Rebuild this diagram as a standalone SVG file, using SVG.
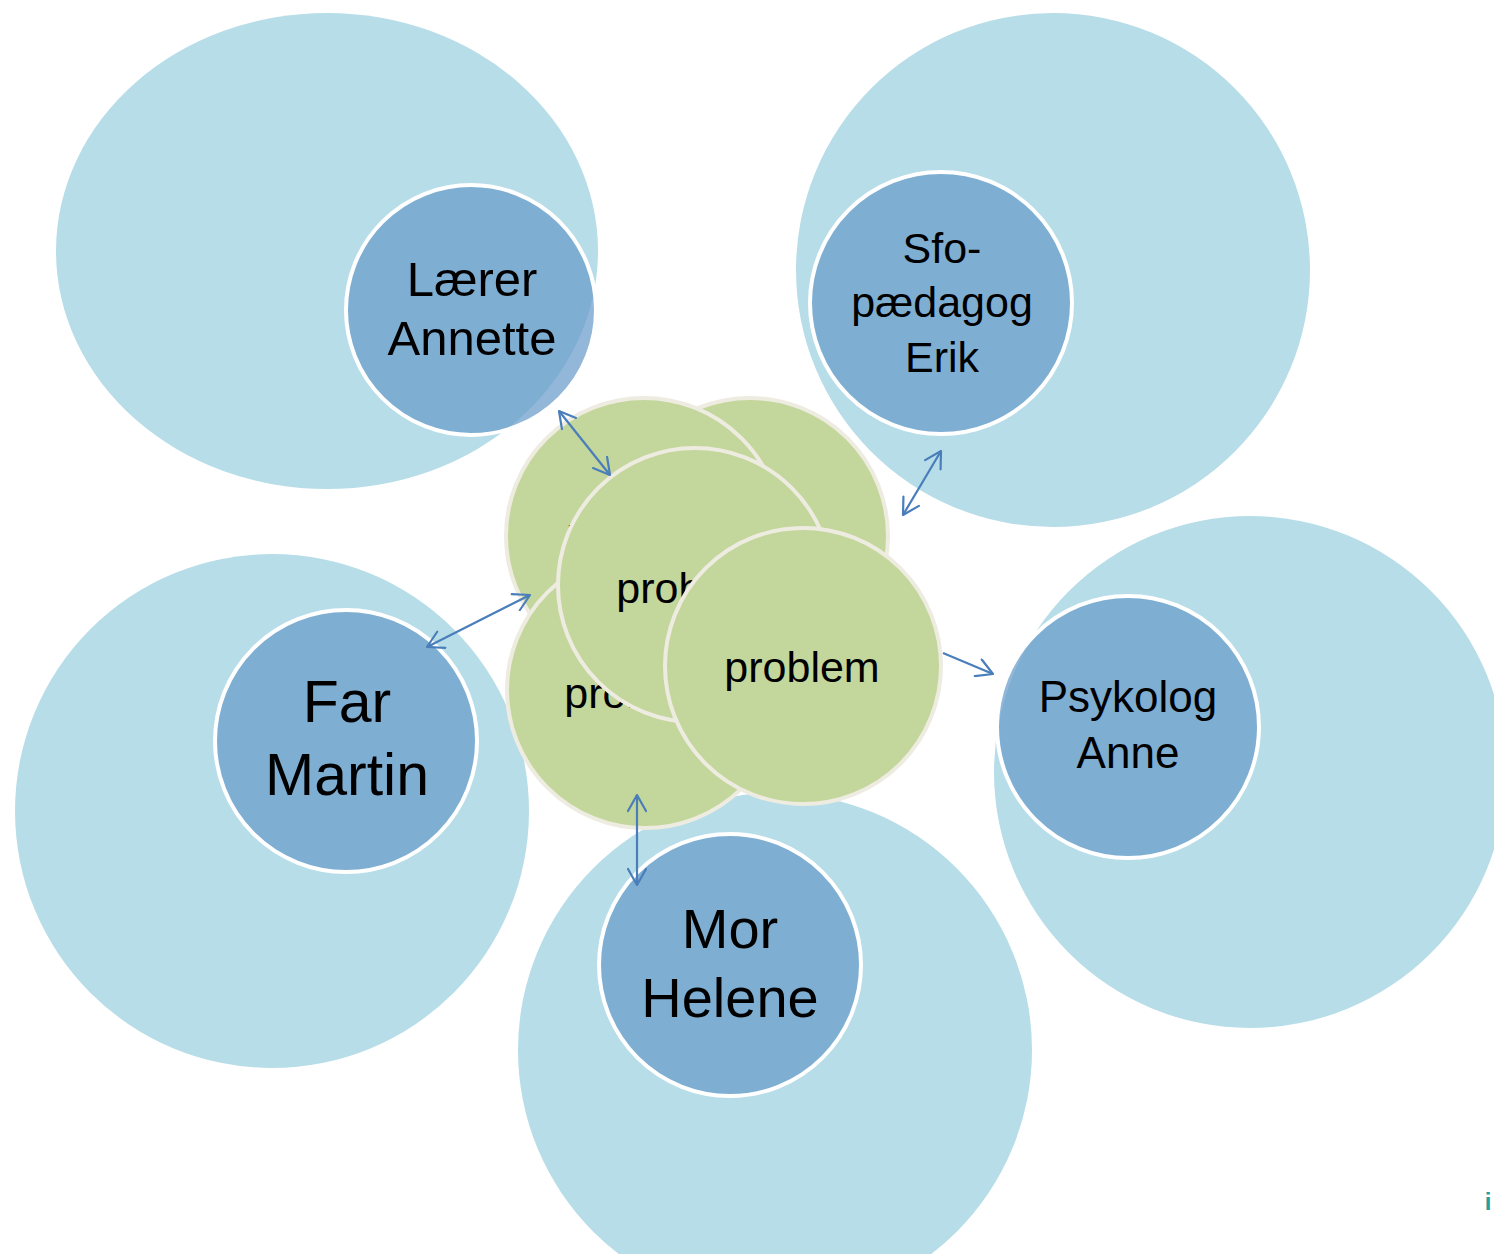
<svg xmlns="http://www.w3.org/2000/svg" width="1494" height="1254" viewBox="0 0 1494 1254">
  <defs>
    <style>
      .halo { fill: #B7DDE8; }
      .person { fill: #6A9BCB; fill-opacity: 0.72; stroke: #FFFFFF; stroke-width: 4; }
      .prob { fill: #C3D69B; stroke: #EEECE1; stroke-width: 4; }
      .lbl { font-family: "Liberation Sans", Arial, sans-serif; fill: #000000; text-anchor: middle; }
      .conn { stroke: #4A7EBB; stroke-width: 2.2; fill: none; }
    </style>
    <marker id="ah" viewBox="0 0 20 20" markerUnits="userSpaceOnUse" markerWidth="20" markerHeight="20" refX="19" refY="10" orient="auto-start-reverse">
      <path d="M3,1 L19,10 L3,19" fill="none" stroke="#4A7EBB" stroke-width="2.2" stroke-linejoin="round" stroke-linecap="round"/>
    </marker>
  </defs>
  <rect x="0" y="0" width="1494" height="1254" fill="#FFFFFF"/>

  <g id="halos">
    <ellipse class="halo" cx="327" cy="251" rx="271" ry="238"/>
    <circle class="halo" cx="1053" cy="270" r="257"/>
    <circle class="halo" cx="272" cy="811" r="257"/>
    <circle class="halo" cx="1250" cy="772" r="256"/>
    <circle class="halo" cx="775" cy="1050" r="257"/>
  </g>

  <g id="node-laerer">
    <circle class="person" cx="471" cy="310" r="125"/>
    <text class="lbl" font-size="49" x="472" y="296">Lærer</text>
    <text class="lbl" font-size="49" x="472" y="355">Annette</text>
  </g>
  <g id="node-sfo">
    <circle class="person" cx="941" cy="303" r="131"/>
    <text class="lbl" font-size="43" x="942" y="263">Sfo-</text>
    <text class="lbl" font-size="43" x="942" y="317">pædagog</text>
    <text class="lbl" font-size="43" x="942" y="372">Erik</text>
  </g>
  <g id="node-far">
    <circle class="person" cx="346" cy="741" r="131"/>
    <text class="lbl" font-size="59" x="347" y="722">Far</text>
    <text class="lbl" font-size="59" x="347" y="795">Martin</text>
  </g>
  <g id="node-psykolog">
    <circle class="person" cx="1128" cy="727" r="131"/>
    <text class="lbl" font-size="44" x="1128" y="712">Psykolog</text>
    <text class="lbl" font-size="44" x="1128" y="768">Anne</text>
  </g>
  <g id="node-mor">
    <circle class="person" cx="730" cy="965" r="131"/>
    <text class="lbl" font-size="56" x="730" y="948">Mor</text>
    <text class="lbl" font-size="56" x="730" y="1017">Helene</text>
  </g>

  <g id="node-problem-2">
    <circle class="prob" cx="750" cy="536" r="138"/>
  </g>
  <g id="node-problem-1">
    <circle class="prob" cx="644" cy="536" r="138"/>
    <text class="lbl" font-size="43" x="644" y="548">problem</text>
  </g>
  <g id="node-problem-3">
    <circle class="prob" cx="645" cy="690" r="138"/>
    <text class="lbl" font-size="43" x="642" y="708">problem</text>
  </g>
  <g id="node-problem-4">
    <circle class="prob" cx="695" cy="585" r="137"/>
    <text class="lbl" font-size="43" x="694" y="603">problem</text>
  </g>
  <g id="node-problem-5">
    <circle class="prob" cx="803" cy="666" r="138"/>
    <text class="lbl" font-size="43" x="802" y="682">problem</text>
  </g>

  <g id="connectors">
    <line class="conn" x1="559" y1="411" x2="610" y2="475" marker-start="url(#ah)" marker-end="url(#ah)"/>
    <line class="conn" x1="941" y1="451" x2="903" y2="515" marker-start="url(#ah)" marker-end="url(#ah)"/>
    <line class="conn" x1="530" y1="595" x2="427" y2="647" marker-start="url(#ah)" marker-end="url(#ah)"/>
    <line class="conn" x1="943" y1="653" x2="993" y2="674" marker-end="url(#ah)"/>
    <line class="conn" x1="637" y1="795" x2="637" y2="885" marker-start="url(#ah)" marker-end="url(#ah)"/>
  </g>

  <text x="1488" y="1210" font-family="Liberation Sans, Arial, sans-serif" font-size="24" font-weight="bold" fill="#21A0A0" text-anchor="middle">i</text>
</svg>
